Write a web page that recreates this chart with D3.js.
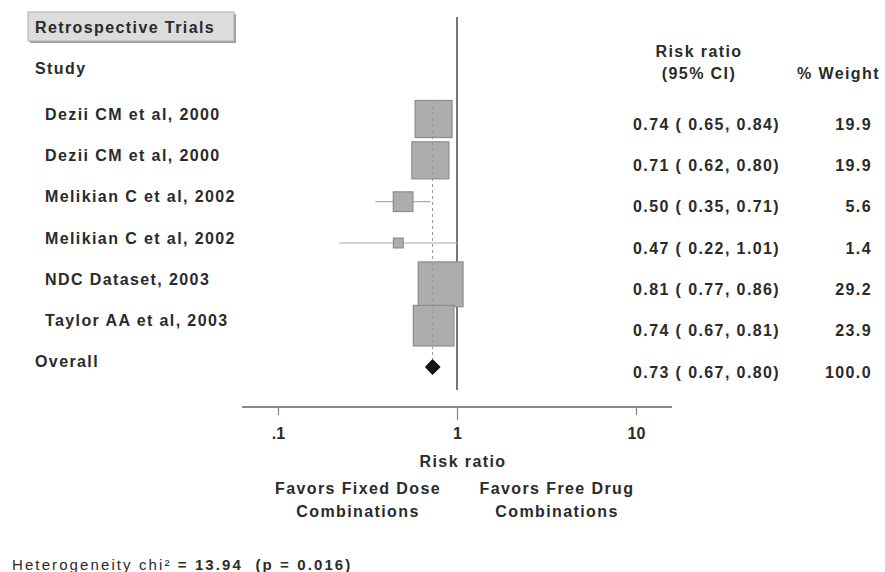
<!DOCTYPE html>
<html>
<head>
<meta charset="utf-8">
<script src="https://cdn.jsdelivr.net/npm/d3@7"></script>
<style>
  html, body { margin: 0; padding: 0; background: #fff; }
  svg { display: block; }
  text { font-family: "Liberation Sans", Arial, sans-serif; fill: #2a2a2a; white-space: pre; }
</style>
</head>
<body>
<svg id="chart" width="885" height="572"></svg>
<script>
// ---- data ----
const studies = ["Dezii CM et al, 2000", "Dezii CM et al, 2000", "Melikian C et al, 2002",
                 "Melikian C et al, 2002", "NDC Dataset, 2003", "Taylor AA et al, 2003"];
const riskRatio = [0.74, 0.71, 0.50, 0.47, 0.81, 0.74];
const ciLow     = [0.65, 0.62, 0.35, 0.22, 0.77, 0.67];
const ciHigh    = [0.84, 0.80, 0.71, 1.01, 0.86, 0.81];
const weights   = [19.9, 19.9, 5.6, 1.4, 29.2, 23.9];
const overallLabel = "Overall";
const overallRR = 0.73, overallLow = 0.67, overallHigh = 0.80, overallWeight = 100.0;
const tickValues = [0.1, 1, 10];
const tickLabels = [".1", "1", "10"];
const panelTitle = "Retrospective Trials";
const xTitle = "Risk ratio";
const favorsLeft = ["Favors Fixed Dose", "Combinations"];
const favorsRight = ["Favors Free Drug", "Combinations"];
const heterogeneity = ["Heterogeneity chi² ", "= 13.94  (p = 0.016)"];

// ---- layout ----
const svg = d3.select("#chart");
const x = d3.scaleLog().domain([0.1, 10]).range([278, 636]);
const nRows = studies.length + 1;
const y = d3.scaleLinear().domain([0, nRows - 1]).range([119, 367]);
const size = d3.scaleSqrt().domain([0, 100]).range([0, 83]);
const axisY = 407;
const f2 = d3.format(".2f"), f1 = d3.format(".1f");
const LS = "1.4px";

function txt(xp, yp, s, opts = {}) {
  return svg.append("text")
    .attr("x", xp).attr("y", yp)
    .attr("dominant-baseline", "central")
    .attr("text-anchor", opts.anchor || "start")
    .style("font-size", (opts.size || 16) + "px")
    .style("font-weight", opts.weight || "bold")
    .style("letter-spacing", opts.ls || LS)
    .text(s);
}

// title box
svg.append("rect").attr("x", 30).attr("y", 14).attr("width", 206).attr("height", 29)
  .attr("fill", "#a0a0a0");
svg.append("rect").attr("x", 28).attr("y", 12).attr("width", 206).attr("height", 29)
  .attr("fill", "#dcdcdc").attr("stroke", "#b0b0b0").attr("stroke-width", 1);
txt(35, 27, panelTitle);
txt(35, 68, "Study");

// column headers
txt(699, 51, "Risk ratio", { anchor: "middle" });
txt(699, 73, "(95% CI)", { anchor: "middle" });
txt(797, 73, "% Weight");

// null line at 1
svg.append("line").attr("x1", x(1)).attr("x2", x(1)).attr("y1", 17).attr("y2", 390)
  .attr("stroke", "#777").attr("stroke-width", 2);

// study rows
const rows = studies.map((s, i) => ({ s, rr: riskRatio[i], lo: ciLow[i], hi: ciHigh[i], w: weights[i], i }));
const g = svg.append("g");
g.selectAll("line.ci").data(rows).join("line").attr("class", "ci")
  .attr("x1", d => x(d.lo)).attr("x2", d => x(d.hi))
  .attr("y1", d => y(d.i)).attr("y2", d => y(d.i))
  .attr("stroke", "#aaa").attr("stroke-width", 1.2);
g.selectAll("rect.box").data(rows).join("rect").attr("class", "box")
  .attr("x", d => x(d.rr) - size(d.w) / 2).attr("y", d => y(d.i) - size(d.w) / 2)
  .attr("width", d => size(d.w)).attr("height", d => size(d.w))
  .attr("fill", "#adadad").attr("stroke", "#8c8c8c").attr("stroke-width", 1.2);
// dashed overall line (on top of boxes)
svg.append("line").attr("x1", x(overallRR)).attr("x2", x(overallRR))
  .attr("y1", 100).attr("y2", y(nRows - 1) - 7)
  .attr("stroke", "#999").attr("stroke-width", 1).attr("stroke-dasharray", "3,3");

rows.forEach(d => {
  txt(45, y(d.i) - 5, d.s);
  txt(633, y(d.i) + 5, `${f2(d.rr)} ( ${f2(d.lo)}, ${f2(d.hi)})`);
  txt(872, y(d.i) + 5, f1(d.w), { anchor: "end" });
});

// overall
const oy = y(nRows - 1);
svg.append("path")
  .attr("d", `M${x(overallLow)},${oy} L${x(overallRR)},${oy - 7} L${x(overallHigh)},${oy} L${x(overallRR)},${oy + 7} Z`)
  .attr("fill", "#111").attr("stroke", "#111").attr("stroke-width", 1.5).attr("stroke-linejoin", "round");
txt(35, oy - 6, overallLabel);
txt(633, oy + 5, `${f2(overallRR)} ( ${f2(overallLow)}, ${f2(overallHigh)})`);
txt(872, oy + 5, f1(overallWeight), { anchor: "end" });

// x axis
const axis = d3.axisBottom(x).tickValues(tickValues).tickFormat((d, i) => tickLabels[i])
  .tickSize(8).tickPadding(13);
const ax = svg.append("g").attr("transform", `translate(0,${axisY})`).call(axis);
ax.select(".domain").remove();
ax.selectAll(".tick line").attr("stroke", "#888").attr("stroke-width", 1.2)
  .attr("y2", d => d === 1 ? 13 : 8);
ax.selectAll(".tick text").style("font-family", '"Liberation Sans", Arial, sans-serif')
  .style("font-size", "16px").style("font-weight", "bold").attr("fill", "#2a2a2a");
ax.append("line").attr("x1", 242).attr("x2", 672).attr("y1", 0).attr("y2", 0)
  .attr("stroke", "#888").attr("stroke-width", 2);

txt(463, 461, xTitle, { anchor: "middle" });
txt(358, 488, favorsLeft[0], { anchor: "middle" });
txt(358, 511, favorsLeft[1], { anchor: "middle" });
txt(557, 488, favorsRight[0], { anchor: "middle" });
txt(557, 511, favorsRight[1], { anchor: "middle" });

// heterogeneity
const het = svg.append("text").attr("x", 12).attr("y", 564).attr("dominant-baseline", "central")
  .style("font-size", "15px").style("letter-spacing", "2.1px");
het.append("tspan").style("font-weight", "normal").text(heterogeneity[0]);
het.append("tspan").style("font-weight", "bold").text(heterogeneity[1]);
</script>
</body>
</html>
